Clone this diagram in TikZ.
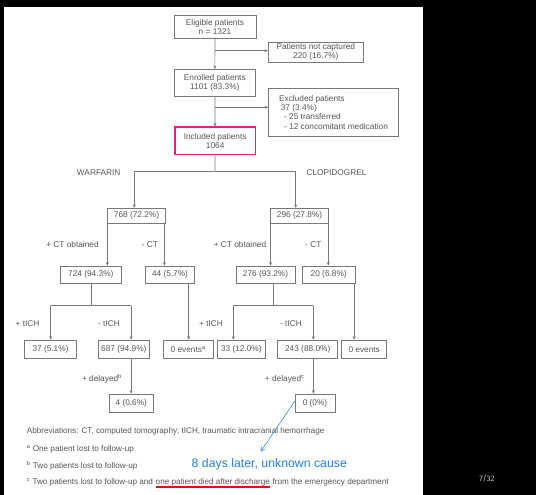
\documentclass[tikz,border=0pt]{standalone}
\usepackage{fontspec}
\setmainfont{Liberation Sans}
\newfontfamily\pagefont{Fira Sans}
\usetikzlibrary{arrows.meta}
\definecolor{txtgray}{RGB}{85,85,85}
\definecolor{linegray}{RGB}{120,120,120}
\definecolor{incmag}{RGB}{220,35,125}
\definecolor{noteblue}{RGB}{35,130,225}
\tikzset{
  flowbox/.style={draw=linegray, line width=0.7pt, text=txtgray, inner sep=0pt, align=center, font=\fontsize{8.3}{9.3}\selectfont},
  branchlabel/.style={text=txtgray, inner sep=0pt, font=\fontsize{8.3}{9.3}\selectfont},
  footnote/.style={text=txtgray, inner sep=0pt, anchor=west, font=\fontsize{8.15}{9.3}\selectfont},
  flowline/.style={draw=linegray, line width=0.7pt},
}
\begin{document}
\begin{tikzpicture}[x=1pt,y=-1pt,>={Stealth[length=3.5pt,width=3pt]}]
\useasboundingbox (0,0) rectangle (536,495);
\fill[black] (0,0) rectangle (536,495);
\fill[white] (4,7) rectangle (423,495);
% enrolment
\node[flowbox, minimum width=82pt, minimum height=23.3pt] (elig) at (215,26.7) {Eligible patients\\n = 1321};
\node[flowbox, minimum width=95pt, minimum height=20pt] (notcap) at (315.8,52.2) {Patients not captured\\220 (16.7\%)};
\node[flowbox, minimum width=81.3pt, minimum height=27.4pt] (enrol) at (214.8,83) {Enrolled patients\\1101 (83.3\%)};
\node[flowbox, minimum width=129.6pt, minimum height=47.7pt, align=left] (excl) at (333.5,112.2)
  {Excluded patients\\\hspace{1.7pt}37 (3.4\%)\\\hspace{5pt}- 25 transferred\\\hspace{5pt}- 12 concomitant medication};
\node[flowbox, draw=incmag, line width=1.2pt, minimum width=80.3pt, minimum height=27.3pt] (incl) at (215.2,140.7) {Included patients\\1064};
\coordinate (j1) at (215,50.7);
\coordinate (j2) at (215,107.3);
\draw[flowline,->] (elig) -- (enrol);
\draw[flowline,->] (j1) -- (notcap.west |- j1);
\draw[flowline,->] (enrol) -- (incl);
\draw[flowline,->] (j2) -- (excl.west |- j2);
% treatment groups
\coordinate (split) at (215,171.7);
\coordinate (warf) at (134.3,171.7);
\coordinate (clop) at (295.7,171.7);
\node[branchlabel] (lwarf) at (98.7,172.7) {WARFARIN};
\node[branchlabel] (lclop) at (336.5,172.7) {CLOPIDOGREL};
\node[flowbox, minimum width=58.4pt, minimum height=15pt] (b768) at (136.5,215.8) {768 (72.2\%)};
\node[flowbox, minimum width=57.6pt, minimum height=15pt] (b296) at (299.5,215.8) {296 (27.8\%)};
\draw[flowline] (incl) -- (split);
\draw[flowline] (warf) -- (clop);
\draw[flowline,->] (warf) -- (warf |- b768.north);
\draw[flowline,->] (clop) -- (clop |- b296.north);
% CT
\node[branchlabel] (lct1) at (72.5,244.3) {+ CT obtained};
\node[branchlabel] (lnct1) at (150,244.3) {- CT};
\node[branchlabel] (lct2) at (240,244.3) {+ CT obtained};
\node[branchlabel] (lnct2) at (313.3,244.3) {- CT};
\node[flowbox, minimum width=61.7pt, minimum height=17.3pt] (b724) at (90.8,274.7) {724 (94.3\%)};
\node[flowbox, minimum width=48.6pt, minimum height=17.3pt] (b44) at (170,274.7) {44 (5.7\%)};
\node[flowbox, minimum width=59pt, minimum height=17.3pt] (b276) at (265.5,274.7) {276 (93.2\%)};
\node[flowbox, minimum width=52.7pt, minimum height=17.3pt] (b20) at (328.7,274.7) {20 (6.8\%)};
\coordinate (xct1) at (107.3,0);
\coordinate (xnct1) at (164.3,0);
\coordinate (xct2) at (270.7,0);
\coordinate (xnct2) at (328.3,0);
\draw[flowline,->] (b768.south -| xct1) -- (b724.north -| xct1);
\draw[flowline,->] (b768.south -| xnct1) -- (b44.north -| xnct1);
\draw[flowline,->] (b296.south -| xct2) -- (b276.north -| xct2);
\draw[flowline,->] (b296.south -| xnct2) -- (b20.north -| xnct2);
% tICH
\node[branchlabel] (lich1) at (27.5,323.3) {+ tICH};
\node[branchlabel] (lnich1) at (109,323.3) {- tICH};
\node[branchlabel] (lich2) at (211,323.3) {+ tICH};
\node[branchlabel] (lnich2) at (291,323.3) {- tICH};
\node[flowbox, minimum width=52.4pt, minimum height=18.3pt] (b37) at (50.5,349.2) {37 (5.1\%)};
\node[flowbox, minimum width=51pt, minimum height=18.3pt] (b687) at (123.8,349.2) {687 (94.9\%)};
\node[flowbox, minimum width=50.3pt, minimum height=18.3pt] (bev1) at (188.2,349.2) {0 events\textsuperscript{a}};
\node[flowbox, minimum width=47.3pt, minimum height=18.3pt] (b33) at (241.3,349.2) {33 (12.0\%)};
\node[flowbox, minimum width=60pt, minimum height=18.3pt] (b243) at (307.7,349.2) {243 (88.0\%)};
\node[flowbox, minimum width=45pt, minimum height=18.3pt] (bev2) at (364.2,349.2) {0 events};
\coordinate (wj) at (91.7,305.7);
\coordinate (cj) at (273.3,305.7);
\coordinate (wl) at (50.7,305.7);
\coordinate (wr) at (131,305.7);
\coordinate (cl) at (233.3,305.7);
\coordinate (cr) at (313.3,305.7);
\coordinate (xev1) at (188.7,0);
\coordinate (xev2) at (354,0);
\draw[flowline] (b724.south -| wj) -- (wj);
\draw[flowline] (b276.south -| cj) -- (cj);
\draw[flowline] (wl) -- (wr);
\draw[flowline] (cl) -- (cr);
\draw[flowline,->] (wl) -- (wl |- b37.north);
\draw[flowline,->] (wr) -- (wr |- b687.north);
\draw[flowline,->] (cl) -- (cl |- b33.north);
\draw[flowline,->] (cr) -- (cr |- b243.north);
\draw[flowline,->] (b44.south -| xev1) -- (bev1.north -| xev1);
\draw[flowline,->] (b20.south -| xev2) -- (bev2.north -| xev2);
% delayed
\node[branchlabel] (ldel1) at (102,379) {+ delayed\textsuperscript{b}};
\node[branchlabel] (ldel2) at (284.8,379) {+ delayed\textsuperscript{c}};
\node[flowbox, minimum width=44pt, minimum height=18.3pt] (b4) at (131.3,403.2) {4 (0.6\%)};
\node[flowbox, minimum width=40pt, minimum height=18.3pt] (b0) at (315,403.2) {0 (0\%)};
\draw[flowline,->] (b687.south -| wr) -- (b4.north -| wr);
\draw[flowline,->] (b243.south -| cr) -- (b0.north -| cr);
% notes
\node[footnote] (abbr) at (26.7,431.7) {Abbreviations: CT, computed tomography; tICH, traumatic intracranial hemorrhage};
\node[footnote] (fna) at (26.7,449) {\textsuperscript{a} One patient lost to follow-up};
\node[footnote] (fnb) at (26.7,465.7) {\textsuperscript{b} Two patients lost to follow-up};
\node[footnote] (fnc1) at (26.7,482.7) {\textsuperscript{c} Two patients lost to follow-up and};
\node[footnote, anchor=base west] (fnc2) at ([xshift=2.3pt]fnc1.base east) {one patient died after discharge};
\node[footnote, anchor=base west] (fnc3) at ([xshift=2.3pt]fnc2.base east) {from the emergency department};
\draw[red, line width=2pt] ([yshift=-2.6pt]fnc2.base west) -- ([yshift=-2.6pt]fnc2.base east);
\node[text=noteblue, inner sep=0pt, font=\fontsize{12.3}{14}\selectfont] (cause) at (269.3,464) {8 days later, unknown cause};
\coordinate (causetip) at (260.7,451.7);
\draw[noteblue, line width=0.5pt, -{Straight Barb[length=4pt,width=4pt]}] ([yshift=2pt]b0.west) -- (causetip);
\node[text=black!25, inner sep=0pt, font=\pagefont\fontsize{8}{9}\selectfont] (pnum) at (487,478.3) {7/32};
\end{tikzpicture}
\end{document}
